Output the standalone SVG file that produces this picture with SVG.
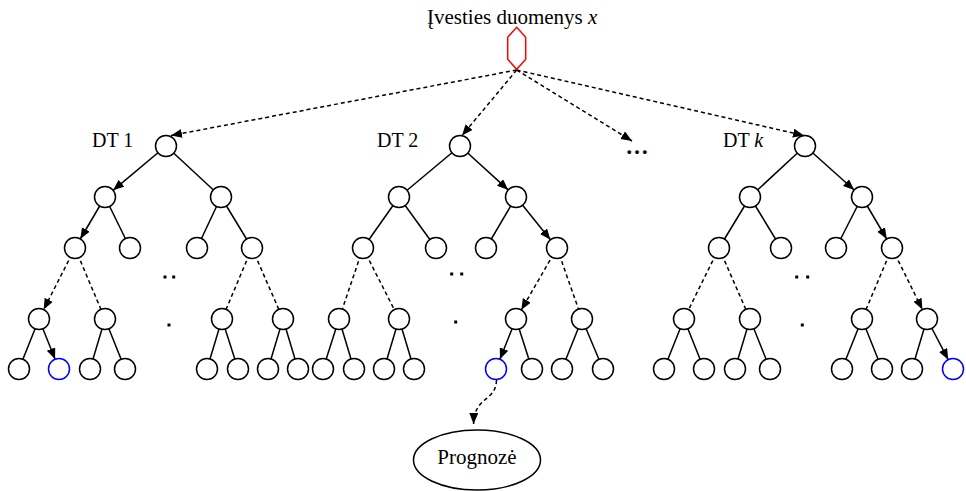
<svg xmlns="http://www.w3.org/2000/svg" width="966" height="491" viewBox="0 0 966 491">
  <style>
    .lbl { font-family: "Liberation Serif", "Times New Roman", serif; font-size: 20px; fill: #000; }
    .edge { stroke: #000; stroke-width: 1.5; fill: none; }
    .dash { stroke: #000; stroke-width: 1.5; fill: none; stroke-dasharray: 4 3; }
    .node { fill: #fff; stroke: #000; stroke-width: 1.5; }
    .hit { fill: #fff; stroke: #0000ff; stroke-width: 1.5; }
    .dot { fill: #000; }
  </style>
  <defs>
    <marker id="arr" markerUnits="userSpaceOnUse" markerWidth="12" markerHeight="10" refX="11" refY="4.5" orient="auto">
      <path d="M0,0 L11,4.5 L0,9 z" fill="#000"/>
    </marker>
  </defs>

  <rect width="966" height="491" fill="#fff"/>

  <!-- connectors -->
  <g id="connectors">
    <!-- input fan-out -->
    <line class="dash" x1="516.7" y1="70" x2="171" y2="135.5" marker-end="url(#arr)"/>
    <line class="dash" x1="516.7" y1="70" x2="462" y2="135.5" marker-end="url(#arr)"/>
    <line class="dash" x1="516.7" y1="70" x2="632" y2="141" marker-end="url(#arr)"/>
    <line class="dash" x1="516.7" y1="70" x2="804" y2="135.5" marker-end="url(#arr)"/>

    <!-- DT 1 -->
    <line class="edge" x1="166" y1="146" x2="113.1" y2="190.3" marker-end="url(#arr)"/>
    <line class="edge" x1="166" y1="146" x2="221" y2="197"/>
    <line class="edge" x1="105" y1="197" x2="80.3" y2="239" marker-end="url(#arr)"/>
    <line class="edge" x1="105" y1="197" x2="130" y2="248"/>
    <line class="edge" x1="221" y1="197" x2="197" y2="248"/>
    <line class="edge" x1="221" y1="197" x2="252" y2="248"/>
    <line class="dash" x1="75" y1="248" x2="43.7" y2="309.6" marker-end="url(#arr)"/>
    <line class="dash" x1="75" y1="248" x2="105" y2="319"/>
    <line class="dash" x1="252" y1="248" x2="222" y2="319"/>
    <line class="dash" x1="252" y1="248" x2="283" y2="319"/>
    <line class="edge" x1="39" y1="319" x2="19" y2="369"/>
    <line class="edge" x1="39" y1="319" x2="55.1" y2="359.3" marker-end="url(#arr)"/>
    <line class="edge" x1="105" y1="319" x2="90" y2="369"/>
    <line class="edge" x1="105" y1="319" x2="125" y2="369"/>
    <line class="edge" x1="222" y1="319" x2="207" y2="369"/>
    <line class="edge" x1="222" y1="319" x2="238" y2="369"/>
    <line class="edge" x1="283" y1="319" x2="268" y2="369"/>
    <line class="edge" x1="283" y1="319" x2="298" y2="369"/>

    <!-- DT 2 -->
    <line class="edge" x1="460" y1="146" x2="399" y2="197"/>
    <line class="edge" x1="460" y1="146" x2="508.2" y2="189.9" marker-end="url(#arr)"/>
    <line class="edge" x1="399" y1="197" x2="363" y2="248"/>
    <line class="edge" x1="399" y1="197" x2="436" y2="248"/>
    <line class="edge" x1="516" y1="197" x2="486" y2="248"/>
    <line class="edge" x1="516" y1="197" x2="550.4" y2="239.8" marker-end="url(#arr)"/>
    <line class="dash" x1="363" y1="248" x2="339" y2="319"/>
    <line class="dash" x1="363" y1="248" x2="399" y2="319"/>
    <line class="dash" x1="557" y1="248" x2="521.3" y2="309.9" marker-end="url(#arr)"/>
    <line class="dash" x1="557" y1="248" x2="582" y2="319"/>
    <line class="edge" x1="339" y1="319" x2="323" y2="369"/>
    <line class="edge" x1="339" y1="319" x2="354" y2="369"/>
    <line class="edge" x1="399" y1="319" x2="384" y2="369"/>
    <line class="edge" x1="399" y1="319" x2="414" y2="369"/>
    <line class="edge" x1="516" y1="319" x2="499.9" y2="359.3" marker-end="url(#arr)"/>
    <line class="edge" x1="516" y1="319" x2="532" y2="369"/>
    <line class="edge" x1="582" y1="319" x2="562" y2="369"/>
    <line class="edge" x1="582" y1="319" x2="603" y2="369"/>

    <!-- DT k -->
    <line class="edge" x1="805" y1="146" x2="750" y2="197"/>
    <line class="edge" x1="805" y1="146" x2="854.2" y2="190" marker-end="url(#arr)"/>
    <line class="edge" x1="750" y1="197" x2="719" y2="248"/>
    <line class="edge" x1="750" y1="197" x2="781" y2="248"/>
    <line class="edge" x1="862" y1="197" x2="836" y2="248"/>
    <line class="edge" x1="862" y1="197" x2="886.7" y2="239" marker-end="url(#arr)"/>
    <line class="dash" x1="719" y1="248" x2="684" y2="319"/>
    <line class="dash" x1="719" y1="248" x2="750" y2="319"/>
    <line class="dash" x1="892" y1="248" x2="862" y2="319"/>
    <line class="dash" x1="892" y1="248" x2="922.4" y2="309.6" marker-end="url(#arr)"/>
    <line class="edge" x1="684" y1="319" x2="664" y2="369"/>
    <line class="edge" x1="684" y1="319" x2="704" y2="369"/>
    <line class="edge" x1="750" y1="319" x2="735" y2="369"/>
    <line class="edge" x1="750" y1="319" x2="770" y2="369"/>
    <line class="edge" x1="862" y1="319" x2="842" y2="369"/>
    <line class="edge" x1="862" y1="319" x2="882" y2="369"/>
    <line class="edge" x1="927" y1="319" x2="912" y2="369"/>
    <line class="edge" x1="927" y1="319" x2="948.2" y2="359.7" marker-end="url(#arr)"/>

    <!-- selected leaf to prediction -->
    <path class="dash" d="M496.5,380 C496,402 474,396 473.6,424" marker-end="url(#arr)"/>
  </g>

  <!-- input -->
  <g id="input">
    <text class="lbl" x="427" y="23.5" style="font-size:21px">Įvesties duomenys <tspan font-style="italic">x</tspan></text>
    <polygon points="516.7,27.3 525.7,37.3 525.7,59.3 516.7,69.3 507.7,59.3 507.7,37.3" fill="#fff" stroke="#ff0000" stroke-width="1.5"/>
  </g>

  <!-- tree 1 -->
  <g id="dt1">
    <text class="lbl" x="92" y="147">DT 1</text>
    <circle class="node" cx="166" cy="146" r="10.5"/>
    <circle class="node" cx="105" cy="197" r="10.5"/>
    <circle class="node" cx="221" cy="197" r="10.5"/>
    <circle class="node" cx="75" cy="248" r="10.5"/>
    <circle class="node" cx="130" cy="248" r="10.5"/>
    <circle class="node" cx="197" cy="248" r="10.5"/>
    <circle class="node" cx="252" cy="248" r="10.5"/>
    <circle class="node" cx="39" cy="319" r="10.5"/>
    <circle class="node" cx="105" cy="319" r="10.5"/>
    <circle class="node" cx="222" cy="319" r="10.5"/>
    <circle class="node" cx="283" cy="319" r="10.5"/>
    <circle class="node" cx="19" cy="369" r="10.5"/>
    <circle class="hit" cx="59" cy="369" r="10.5"/>
    <circle class="node" cx="90" cy="369" r="10.5"/>
    <circle class="node" cx="125" cy="369" r="10.5"/>
    <circle class="node" cx="207" cy="369" r="10.5"/>
    <circle class="node" cx="238" cy="369" r="10.5"/>
    <circle class="node" cx="268" cy="369" r="10.5"/>
    <circle class="node" cx="298" cy="369" r="10.5"/>
    <rect class="dot" x="163.5" y="275.5" width="3" height="3"/>
    <rect class="dot" x="172.2" y="275.5" width="3" height="3"/>
    <rect class="dot" x="167.5" y="323.5" width="3" height="3"/>
  </g>

  <!-- tree 2 -->
  <g id="dt2">
    <text class="lbl" x="377" y="147">DT 2</text>
    <circle class="node" cx="460" cy="146" r="10.5"/>
    <circle class="node" cx="399" cy="197" r="10.5"/>
    <circle class="node" cx="516" cy="197" r="10.5"/>
    <circle class="node" cx="363" cy="248" r="10.5"/>
    <circle class="node" cx="436" cy="248" r="10.5"/>
    <circle class="node" cx="486" cy="248" r="10.5"/>
    <circle class="node" cx="557" cy="248" r="10.5"/>
    <circle class="node" cx="339" cy="319" r="10.5"/>
    <circle class="node" cx="399" cy="319" r="10.5"/>
    <circle class="node" cx="516" cy="319" r="10.5"/>
    <circle class="node" cx="582" cy="319" r="10.5"/>
    <circle class="node" cx="323" cy="369" r="10.5"/>
    <circle class="node" cx="354" cy="369" r="10.5"/>
    <circle class="node" cx="384" cy="369" r="10.5"/>
    <circle class="node" cx="414" cy="369" r="10.5"/>
    <circle class="hit" cx="496" cy="369" r="10.5"/>
    <circle class="node" cx="532" cy="369" r="10.5"/>
    <circle class="node" cx="562" cy="369" r="10.5"/>
    <circle class="node" cx="603" cy="369" r="10.5"/>
    <rect class="dot" x="450.2" y="272.5" width="3" height="3"/>
    <rect class="dot" x="460.2" y="272.5" width="3" height="3"/>
    <rect class="dot" x="454.2" y="320.5" width="3" height="3"/>
  </g>

  <!-- more trees -->
  <g id="more">
    <text class="lbl" x="625.5" y="153.5" style="font-size:23px;font-weight:bold">…</text>
  </g>

  <!-- tree k -->
  <g id="dtk">
    <text class="lbl" x="723" y="147">DT <tspan font-style="italic">k</tspan></text>
    <circle class="node" cx="805" cy="146" r="10.5"/>
    <circle class="node" cx="750" cy="197" r="10.5"/>
    <circle class="node" cx="862" cy="197" r="10.5"/>
    <circle class="node" cx="719" cy="248" r="10.5"/>
    <circle class="node" cx="781" cy="248" r="10.5"/>
    <circle class="node" cx="836" cy="248" r="10.5"/>
    <circle class="node" cx="892" cy="248" r="10.5"/>
    <circle class="node" cx="684" cy="319" r="10.5"/>
    <circle class="node" cx="750" cy="319" r="10.5"/>
    <circle class="node" cx="862" cy="319" r="10.5"/>
    <circle class="node" cx="927" cy="319" r="10.5"/>
    <circle class="node" cx="664" cy="369" r="10.5"/>
    <circle class="node" cx="704" cy="369" r="10.5"/>
    <circle class="node" cx="735" cy="369" r="10.5"/>
    <circle class="node" cx="770" cy="369" r="10.5"/>
    <circle class="node" cx="842" cy="369" r="10.5"/>
    <circle class="node" cx="882" cy="369" r="10.5"/>
    <circle class="node" cx="912" cy="369" r="10.5"/>
    <circle class="hit" cx="953" cy="369" r="10.5"/>
    <rect class="dot" x="795.2" y="275.5" width="3" height="3"/>
    <rect class="dot" x="806.2" y="275.5" width="3" height="3"/>
    <rect class="dot" x="800.8" y="323.5" width="3" height="3"/>
  </g>

  <!-- prediction -->
  <g id="prediction">
    <ellipse class="node" cx="477" cy="460" rx="63.5" ry="30"/>
    <text class="lbl" x="477" y="464" text-anchor="middle" style="font-size:21px">Prognozė</text>
  </g>
</svg>
